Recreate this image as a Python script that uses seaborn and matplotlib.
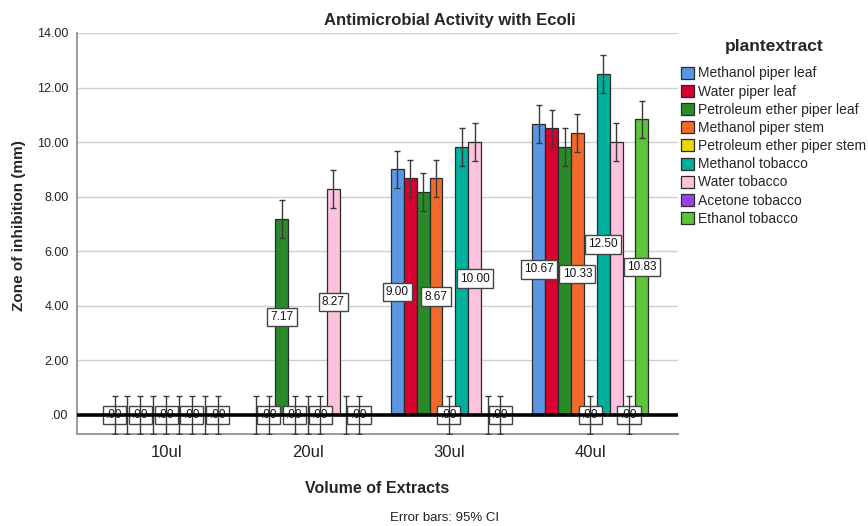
import numpy as np
import pandas as pd
import matplotlib
matplotlib.use("Agg")
import matplotlib.pyplot as plt
import matplotlib.patches as mpatches
import seaborn as sns

# ---------------- data ----------------
volumes = ["10ul", "20ul", "30ul", "40ul"]
extracts = [
    "Methanol piper leaf",
    "Water piper leaf",
    "Petroleum ether piper leaf",
    "Methanol piper stem",
    "Petroleum ether piper stem",
    "Methanol tobacco",
    "Water tobacco",
    "Acetone tobacco",
    "Ethanol tobacco",
]
methanol_piper_leaf = [0.00, 0.00, 9.00, 10.67]
water_piper_leaf = [0.00, 0.00, 8.67, 10.50]
petroleum_ether_piper_leaf = [0.00, 7.17, 8.17, 9.83]
methanol_piper_stem = [0.00, 0.00, 8.67, 10.33]
petroleum_ether_piper_stem = [0.00, 0.00, 0.00, 0.00]
methanol_tobacco = [0.00, 0.00, 9.83, 12.50]
water_tobacco = [0.00, 8.27, 10.00, 10.00]
acetone_tobacco = [0.00, 0.00, 0.00, 0.00]
ethanol_tobacco = [0.00, 0.00, 0.00, 10.83]
ci_half = 0.69  # 95% CI half width

# which value labels are visible (SPSS hides overlapping ones), by series index
labels_shown = {
    "10ul": [0, 2, 4, 6, 8],
    "20ul": [1, 2, 3, 5, 6, 8],
    "30ul": [0, 3, 4, 6, 8],
    "40ul": [0, 3, 4, 5, 7, 8],
}

colors = ["#5a96e2", "#d8002e", "#2a8a2a", "#f26a2a", "#e6d800",
          "#00b09c", "#fcc2de", "#9b40f0", "#5ec43a"]

series_values = [methanol_piper_leaf, water_piper_leaf, petroleum_ether_piper_leaf,
                 methanol_piper_stem, petroleum_ether_piper_stem, methanol_tobacco,
                 water_tobacco, acetone_tobacco, ethanol_tobacco]

rows = []
for name, vals in zip(extracts, series_values):
    for vol, v in zip(volumes, vals):
        rows.append({"volume": vol, "plantextract": name, "zone": v})
df = pd.DataFrame(rows)

# ---------------- plot ----------------
sns.set_theme(style="white")
plt.rcParams["font.family"] = ["Liberation Sans", "DejaVu Sans"]

W, H = 868, 526
fig = plt.figure(figsize=(W / 100, H / 100), dpi=100)
ax = fig.add_axes([77 / W, 1 - 434 / H, (678 - 77) / W, (434 - 33) / H])

sns.barplot(data=df, x="volume", y="zone", hue="plantextract", order=volumes,
            hue_order=extracts, palette=colors, errorbar=None, width=0.82,
            edgecolor="#2a2a2a", linewidth=0.9, saturation=1, ax=ax, legend=False,
            zorder=2)

def fmt(v):
    s = f"{v:.2f}"
    if s.startswith("0."):
        s = s[1:]
    return s

bar_containers = list(ax.containers)
for si, cont in enumerate(bar_containers):
    for ci, bar in enumerate(cont.patches):
        v = series_values[si][ci]
        xc = bar.get_x() + bar.get_width() / 2
        ax.errorbar(xc, v, yerr=ci_half, fmt="none", ecolor="#3a3a3a",
                    elinewidth=1.0, capsize=2.2, capthick=1.0, zorder=4)
        if si in labels_shown[volumes[ci]]:
            ax.text(xc, v / 2, fmt(v), ha="center", va="center", fontsize=8.5,
                    color="#111111", zorder=3,
                    bbox=dict(boxstyle="square,pad=0.28", fc="white",
                              ec="#444444", lw=1.0))

ax.axhline(0, color="black", lw=2.6, zorder=5)

ax.set_xlim(-0.63, 3.62)
ax.set_ylim(-0.70, 14)
yt = np.arange(0, 15, 2)
ax.set_yticks(yt)
ax.set_yticklabels([fmt(float(t)) for t in yt], fontsize=9, color="#222222")
ax.tick_params(axis="x", length=0, labelsize=12, pad=8, colors="#222222")
ax.tick_params(axis="y", length=0, pad=6)
ax.yaxis.grid(True, color="#cfcfcf", lw=1, zorder=0)
ax.set_axisbelow(True)
for s in ["top", "right"]:
    ax.spines[s].set_visible(False)
for s in ["left", "bottom"]:
    ax.spines[s].set_color("#9a9a9a")
    ax.spines[s].set_linewidth(1.4)

ax.set_xlabel("Volume of Extracts", fontsize=11.5, fontweight="bold", labelpad=15)
ax.set_ylabel("Zone of inhibition (mm)", fontsize=11, fontweight="bold")
ax.yaxis.set_label_coords((26 - 77) / 601, (434 - 226) / 401)

fig.text(450 / W, 1 - 20 / H, "Antimicrobial Activity with Ecoli", ha="center",
         va="center", fontsize=12, fontweight="bold")
fig.text(445 / W, 1 - 518 / H, "Error bars: 95% CI", ha="center", va="center",
         fontsize=9.5, color="#222222")

handles = [mpatches.Patch(facecolor=c, edgecolor="#2a2a2a", lw=0.9, label=n)
           for c, n in zip(colors, extracts)]
leg = fig.legend(handles=handles, title="plantextract", loc="upper left",
                 bbox_to_anchor=(681 / W, 1 - 39 / H), frameon=False, fontsize=10,
                 handlelength=0.95, handleheight=0.95, handletextpad=0.3,
                 labelspacing=0.3, borderaxespad=0, borderpad=0)
leg.get_title().set_fontweight("bold")
leg.get_title().set_fontsize(12.5)
leg._legend_box.align = "center"
leg._legend_box.sep = 9

fig.savefig("out.png", dpi=100)
